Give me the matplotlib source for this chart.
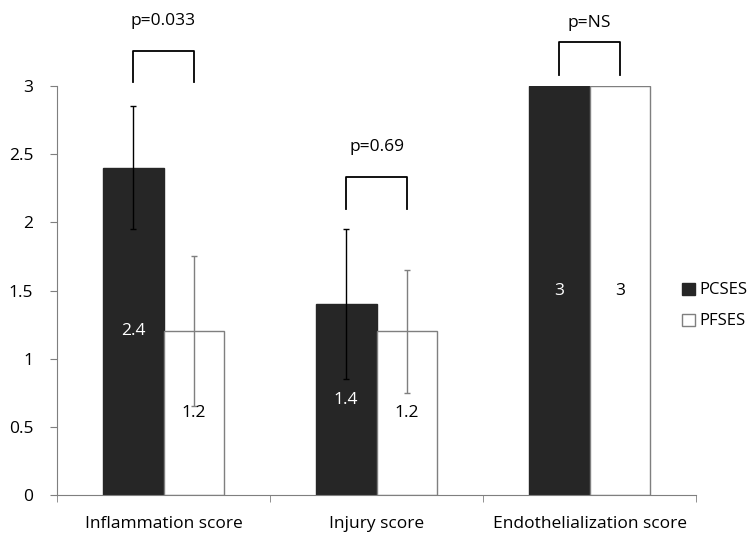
import numpy as np
import matplotlib.pyplot as plt
from matplotlib.patches import Patch

plt.rcParams['font.family'] = ['Open Sans', 'DejaVu Sans']

# data
categories = ['Inflammation score', 'Injury score', 'Endothelialization score']
pcses = [2.4, 1.4, 3]
pfses = [1.2, 1.2, 3]
pcses_err = [0.45, 0.55, 0]
pfses_err = [0.55, 0.45, 0]
p_labels = ['p=0.033', 'p=0.69', 'p=NS']
bracket_low = [3.03, 2.10, 3.08]
bracket_high = [3.26, 2.33, 3.32]
ptext_y = [3.48, 2.55, 3.46]

dark = '#262626'
grey = '#7f7f7f'
fs = 12.5

fig = plt.figure(figsize=(7.54, 5.33), dpi=100)
ax = fig.add_axes([0.0756, 0.0713, 0.8475, 0.7673])

x = np.arange(len(categories))
w = 0.286

ax.bar(x - w/2, pcses, w, color=dark, edgecolor=dark, linewidth=1)
ax.bar(x + w/2, pfses, w, color='white', edgecolor=grey, linewidth=1)

# error bars (only where there is an error)
for i in range(len(x)):
    if pcses_err[i] > 0:
        ax.errorbar(x[i] - w/2, pcses[i], yerr=pcses_err[i], fmt='none',
                    ecolor='black', elinewidth=1, capsize=2.5, capthick=1)
    if pfses_err[i] > 0:
        ax.errorbar(x[i] + w/2, pfses[i], yerr=pfses_err[i], fmt='none',
                    ecolor=grey, elinewidth=1, capsize=2.5, capthick=1)

# value labels in the middle of each bar
for i in range(len(x)):
    ax.text(x[i] - w/2, pcses[i] / 2, str(pcses[i]), ha='center', va='center',
            color='white', fontsize=fs)
    ax.text(x[i] + w/2, pfses[i] / 2, str(pfses[i]), ha='center', va='center',
            color='black', fontsize=fs)

# significance brackets
for i in range(len(x)):
    xl, xr = x[i] - w/2, x[i] + w/2
    ax.plot([xl, xl, xr, xr], [bracket_low[i], bracket_high[i], bracket_high[i], bracket_low[i]],
            color='black', linewidth=1.3, clip_on=False)
    ax.text(x[i], ptext_y[i], p_labels[i], ha='center', va='center', fontsize=fs)

ax.set_xlim(-0.5, 2.5)
ax.set_ylim(0, 3)
ax.set_yticks([0, 0.5, 1, 1.5, 2, 2.5, 3])
ax.set_yticklabels(['0', '0.5', '1', '1.5', '2', '2.5', '3'])
ax.set_xticks(x)
ax.set_xticklabels(categories)
ax.set_xticks([-0.5, 0.5, 1.5, 2.5], minor=True)
ax.tick_params(axis='x', which='major', length=0, pad=15, labelsize=fs)
ax.tick_params(axis='x', which='minor', length=5, color=grey, direction='out')
ax.tick_params(axis='y', length=5, color=grey, pad=12, labelsize=fs)

for s in ['top', 'right']:
    ax.spines[s].set_visible(False)
ax.spines['left'].set_color(grey)
ax.spines['bottom'].set_color(grey)

handles = [Patch(facecolor=dark, edgecolor=dark), Patch(facecolor='white', edgecolor=grey)]
fig.legend(handles, ['PCSES', 'PFSES'], loc='center left', bbox_to_anchor=(0.905, 0.426),
           frameon=False, handlelength=0.75, handleheight=0.75, handletextpad=0.3,
           labelspacing=0.9, fontsize=12, borderpad=0, borderaxespad=0)

fig.savefig('out.png', dpi=100)
